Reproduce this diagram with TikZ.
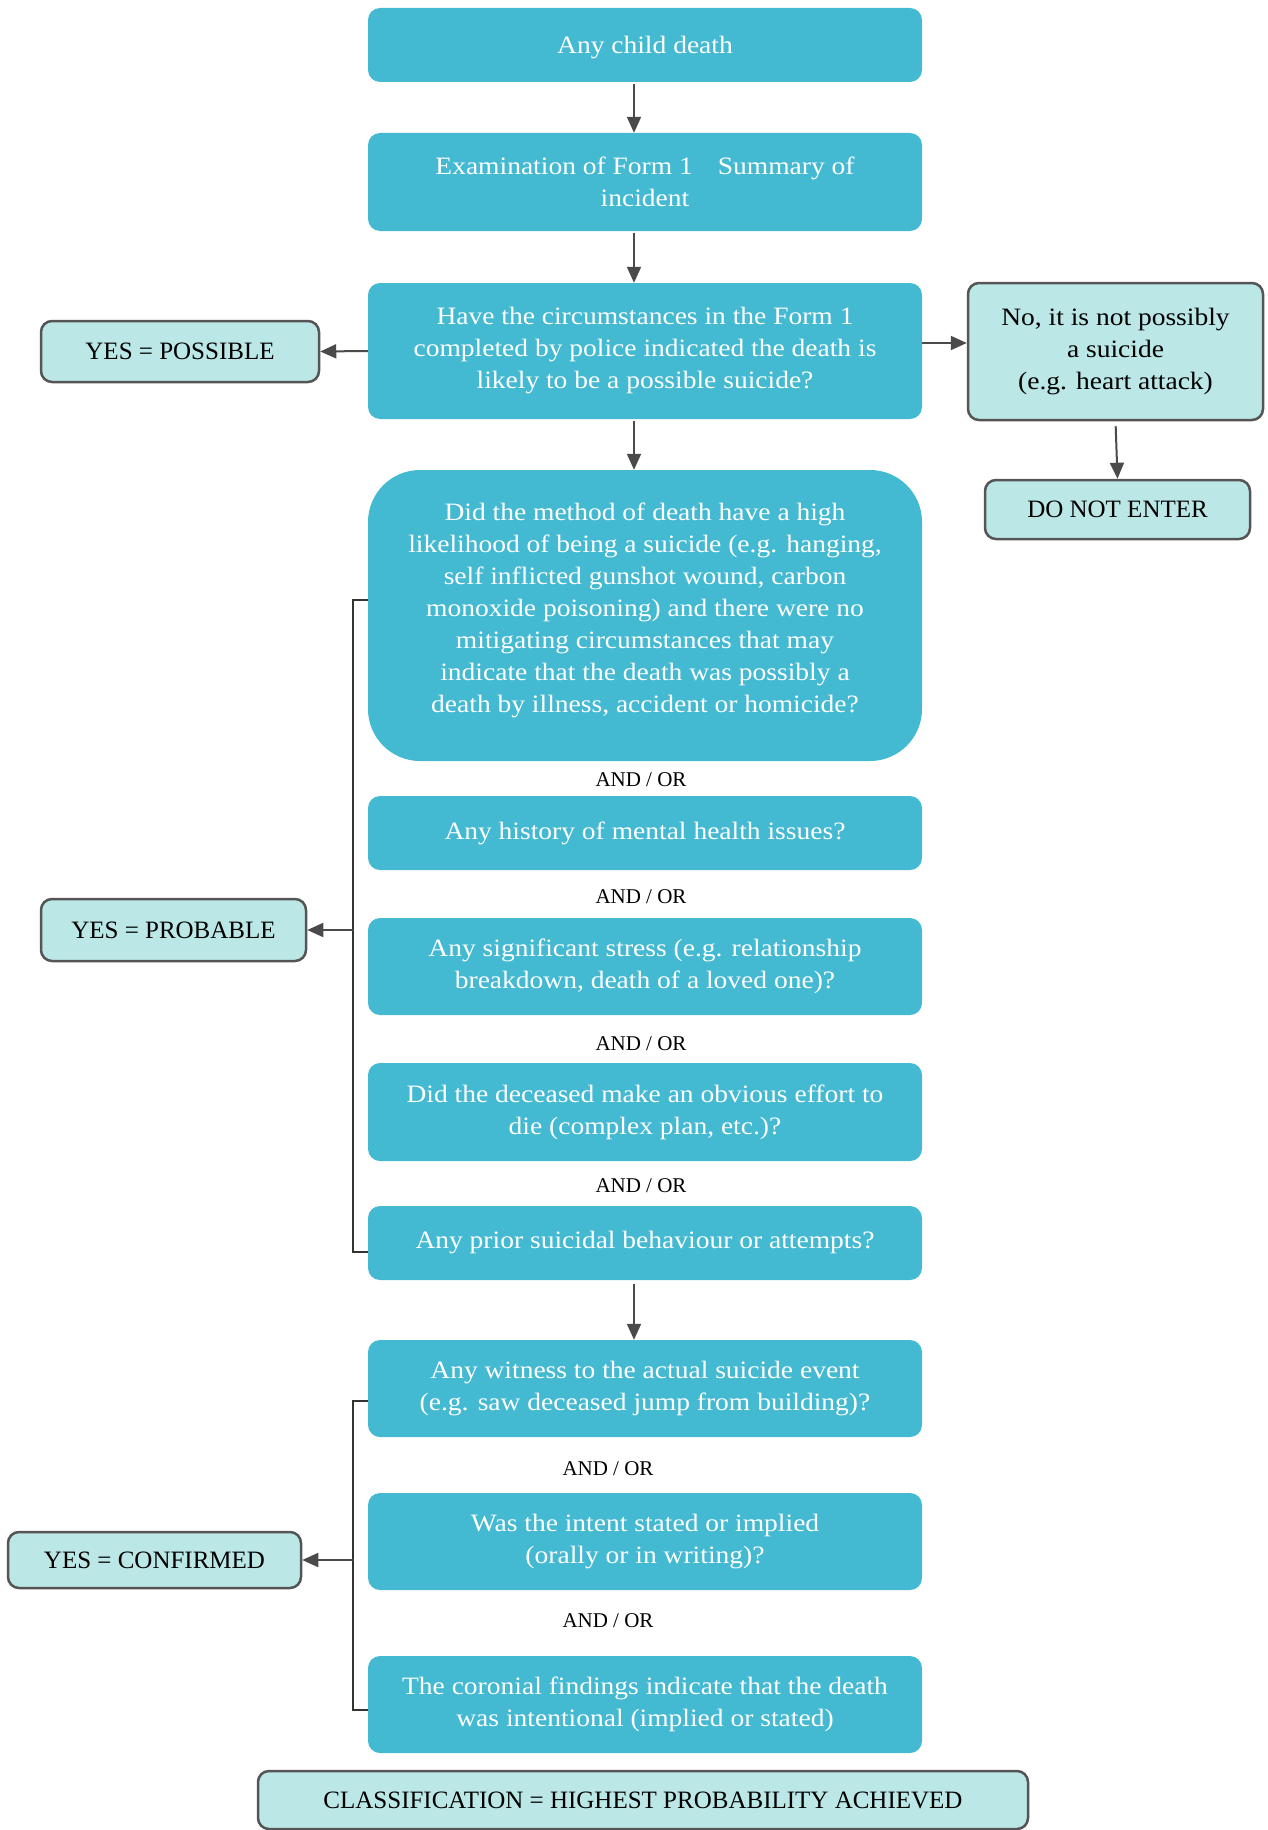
\documentclass[tikz,border=0pt]{standalone}
\usepackage{fontspec}
\setmainfont{Liberation Serif}
\newfontfamily\widefont[FakeStretch=1.1]{Liberation Serif}
\usetikzlibrary{arrows.meta}
\definecolor{mainfill}{HTML}{44B9D2}
\definecolor{lightfill}{HTML}{BBE7E7}
\definecolor{edgegray}{HTML}{555555}
\definecolor{arrgray}{HTML}{4A4A4A}
\tikzset{
  mainbox/.style={fill=mainfill, draw=none, rounded corners=12pt, text=white,
    align=center, inner sep=0pt, minimum width=554pt,
    font=\widefont\fontsize{25}{32}\selectfont},
  bigbox/.style={mainbox, rounded corners=52pt},
  bigtext/.style={text=white, align=center, inner sep=0pt, font=\widefont\fontsize{25}{32}\selectfont},
  lightbox/.style={fill=lightfill, draw=edgegray, line width=2.5pt, rounded corners=11pt,
    text=black, align=center, inner sep=0pt, font=\fontsize{25}{32}\selectfont},
  andor/.style={text=black, inner sep=0pt, font=\fontsize{21}{24}\selectfont},
  arr/.style={draw=arrgray, line width=2pt, -{Triangle[length=16pt,width=14pt]}},
  brk/.style={draw=black!80, line width=1.6pt},
}
\begin{document}
\begin{tikzpicture}[x=1pt,y=-1pt]
\useasboundingbox (0,0) rectangle (1268,1830);
\node[mainbox, minimum height=74pt, text depth=-2pt] (b1) at (645,45) {Any child death};
\node[mainbox, minimum height=98pt] (b2) at (645,182) {Examination of Form 1\quad Summary of\\incident};
\node[mainbox, minimum height=136pt] (b3) at (645,351) {Have the circumstances in the Form 1\\completed by police indicated the death is\\likely to be a possible suicide?};
\node[lightbox, minimum width=278pt, minimum height=61pt] (pos) at (180,351.5) {YES = POSSIBLE};
\node[lightbox, minimum width=295pt, minimum height=137pt, font=\widefont\fontsize{25}{32}\selectfont] (no) at (1115.5,351.5) {No, it is not possibly\\a suicide\\(e.g. heart attack)};
\node[lightbox, minimum width=265pt, minimum height=59pt] (dne) at (1117.5,509.5) {DO NOT ENTER};
\node[bigbox, minimum height=291pt] (b4) at (645,615.5) {};
\node[bigtext] (b4t) at (645,610) {Did the method of death have a high\\likelihood of being a suicide (e.g. hanging,\\self inflicted gunshot wound, carbon\\monoxide poisoning) and there were no\\mitigating circumstances that may\\indicate that the death was possibly a\\death by illness, accident or homicide?};
\node[andor] (a1) at (641,780) {AND / OR};
\node[mainbox, minimum height=74pt] (b5) at (645,833) {Any history of mental health issues?};
\node[andor] (a2) at (641,897) {AND / OR};
\node[mainbox, minimum height=97pt] (b6) at (645,966.5) {Any significant stress (e.g. relationship\\breakdown, death of a loved one)?};
\node[andor] (a3) at (641,1044) {AND / OR};
\node[mainbox, minimum height=98pt] (b7) at (645,1112) {Did the deceased make an obvious effort to\\die (complex plan, etc.)?};
\node[andor] (a4) at (641,1186) {AND / OR};
\node[mainbox, minimum height=74pt] (b8) at (645,1243) {Any prior suicidal behaviour or attempts?};
\node[lightbox, minimum width=265pt, minimum height=62pt] (prob) at (173.5,930) {YES = PROBABLE};
\node[mainbox, minimum height=97pt] (b9) at (645,1388.5) {Any witness to the actual suicide event\\(e.g. saw deceased jump from building)?};
\node[andor] (a5) at (608,1469) {AND / OR};
\node[mainbox, minimum height=97pt] (b10) at (645,1541.5) {Was the intent stated or implied\\(orally or in writing)?};
\node[andor] (a6) at (608,1621) {AND / OR};
\node[mainbox, minimum height=97pt] (b11) at (645,1704.5) {The coronial findings indicate that the death\\was intentional (implied or stated)};
\node[lightbox, minimum width=293pt, minimum height=56pt] (conf) at (154.5,1560) {YES = CONFIRMED};
\node[lightbox, minimum width=770pt, minimum height=58pt] (cls) at (643,1800) {CLASSIFICATION = HIGHEST PROBABILITY ACHIEVED};
% main arrows
\draw[arr, shorten <=2pt] ([xshift=-11pt]b1.south) -- ([xshift=-11pt]b2.north);
\draw[arr, shorten <=2pt] ([xshift=-11pt]b2.south) -- ([xshift=-11pt]b3.north);
\draw[arr, shorten <=2pt] ([xshift=-11pt]b3.south) -- ([xshift=-11pt]b4.north);
\draw[arr, shorten <=4pt] ([xshift=-11pt]b8.south) -- ([xshift=-11pt]b9.north);
\draw[arr] (b3.west) -- (pos.east);
\coordinate (r3) at ([yshift=8pt]b3.east);
\draw[arr] (r3) -- (no.west |- r3);
\draw[arr, shorten <=5pt] (no.south) -- (dne.north);
% bracket 1
\coordinate (k1) at (353,600);
\coordinate (k2) at (353,1252);
\coordinate (kp) at (353,930);
\draw[brk] (b4.west |- k1) -- (k1) -- (k2) -- (b8.west |- k2);
\draw[arr] (kp) -- (prob.east);
% bracket 2
\coordinate (m1) at (353,1401);
\coordinate (m2) at (353,1710);
\coordinate (mp) at (353,1560);
\draw[brk] (b9.west |- m1) -- (m1) -- (m2) -- (b11.west |- m2);
\draw[arr] (mp) -- (conf.east);
\end{tikzpicture}
\end{document}
